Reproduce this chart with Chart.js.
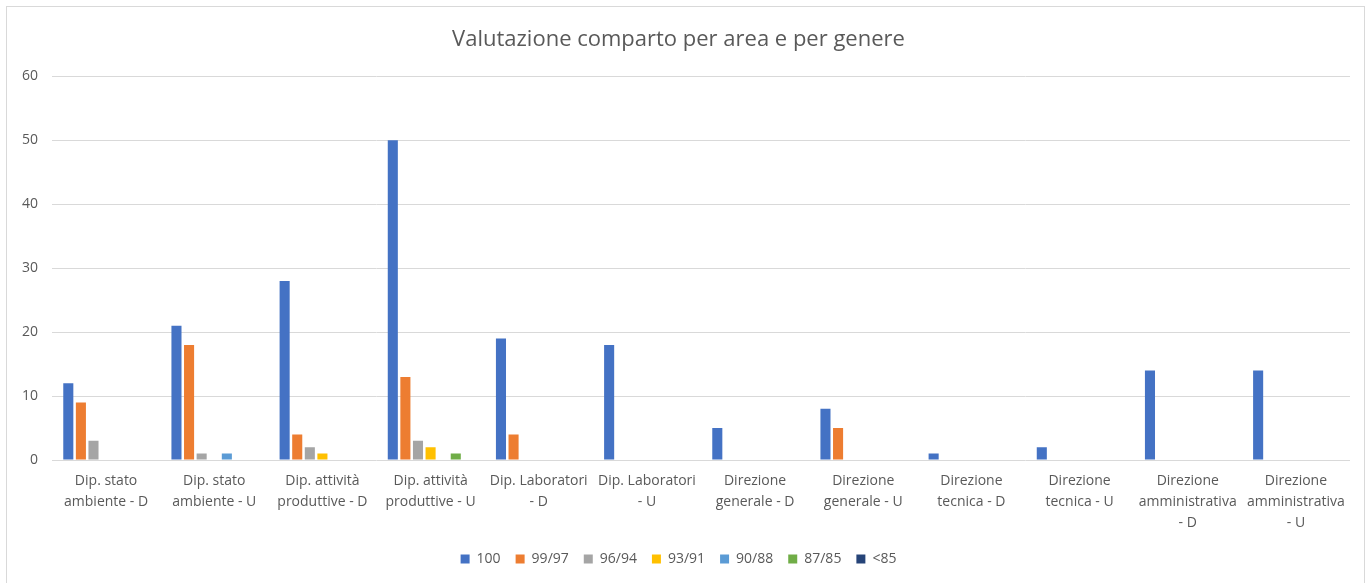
<!DOCTYPE html>
<html>
<head>
<meta charset="utf-8">
<script src="https://cdn.jsdelivr.net/npm/chart.js@4/dist/chart.umd.min.js"></script>
<style>
  html, body { margin: 0; padding: 0; background: #fff; overflow: hidden; }
  #box {
    position: absolute; left: 6px; top: 6px;
    width: 1357px; height: 580px;
    border: 1px solid #d9d9d9; background: #fff;
  }
</style>
</head>
<body>
<div id="box"><canvas id="chart" width="1357" height="580"></canvas></div>
<script>
// Categorie (asse X)
var categories = [
  ['Dip. stato', 'ambiente - D'],
  ['Dip. stato', 'ambiente - U'],
  ['Dip. attività', 'produttive - D'],
  ['Dip. attività', 'produttive - U'],
  ['Dip. Laboratori', '- D'],
  ['Dip. Laboratori', '- U'],
  ['Direzione', 'generale - D'],
  ['Direzione', 'generale - U'],
  ['Direzione', 'tecnica - D'],
  ['Direzione', 'tecnica - U'],
  ['Direzione', 'amministrativa', '- D'],
  ['Direzione', 'amministrativa', '- U']
];

// Serie per fascia di valutazione
var seriesNames = ['100', '99/97', '96/94', '93/91', '90/88', '87/85', '<85'];
var s100   = [12, 21, 28, 50, 19, 18, 5, 8, 1, 2, 14, 14];
var s9997  = [9, 18, 4, 13, 4, 0, 0, 5, 0, 0, 0, 0];
var s9694  = [3, 1, 2, 3, 0, 0, 0, 0, 0, 0, 0, 0];
var s9391  = [0, 0, 1, 2, 0, 0, 0, 0, 0, 0, 0, 0];
var s9088  = [0, 1, 0, 0, 0, 0, 0, 0, 0, 0, 0, 0];
var s8785  = [0, 0, 0, 1, 0, 0, 0, 0, 0, 0, 0, 0];
var sLess85 = [0, 0, 0, 0, 0, 0, 0, 0, 0, 0, 0, 0];

var yTicks = [0, 10, 20, 30, 40, 50, 60];

var seriesData = [s100, s9997, s9694, s9391, s9088, s8785, sLess85];
var colors = ['#4472C4', '#ED7D31', '#A5A5A5', '#FFC000', '#5B9BD5', '#70AD47', '#264478'];

var textColor = '#595959';
var fontFamily = "'Open Sans', 'Noto Sans', sans-serif";

var ctx = document.getElementById('chart').getContext('2d');
new Chart(ctx, {
  type: 'bar',
  data: {
    labels: categories,
    datasets: seriesNames.map(function(name, i) {
      return {
        label: name,
        data: seriesData[i],
        backgroundColor: colors[i],
        borderWidth: 0,
        categoryPercentage: 0.815,
        barPercentage: 0.8
      };
    })
  },
  options: {
    responsive: false,
    animation: false,
    layout: { padding: { left: 0, right: 14, top: 0, bottom: 11 } },
    plugins: {
      title: {
        display: true,
        text: 'Valutazione comparto per area e per genere',
        color: textColor,
        font: { family: fontFamily, size: 22, weight: 'normal' },
        padding: { top: 20, bottom: 23 }
      },
      legend: {
        position: 'bottom',
        labels: {
          color: textColor,
          font: { family: fontFamily, size: 14 },
          boxWidth: 9,
          boxHeight: 9,
          padding: 15
        }
      },
      tooltip: { enabled: false }
    },
    scales: {
      x: {
        grid: { display: false },
        border: { display: false },
        ticks: {
          color: textColor,
          font: { family: fontFamily, size: 14, lineHeight: 1.5 },
          maxRotation: 0,
          autoSkip: false,
          padding: 3
        },
        afterFit: function(scale) { scale.height = 77; }
      },
      y: {
        min: 0,
        max: 60,
        afterBuildTicks: function(scale) {
          scale.ticks = yTicks.map(function(v) { return { value: v }; });
        },
        grid: { color: '#d9d9d9', lineWidth: 1, drawTicks: false },
        border: { display: false },
        ticks: {
          color: textColor,
          font: { family: fontFamily, size: 14 },
          padding: 14
        },
        afterFit: function(scale) { scale.width = 45; }
      }
    }
  }
});
</script>
</body>
</html>
